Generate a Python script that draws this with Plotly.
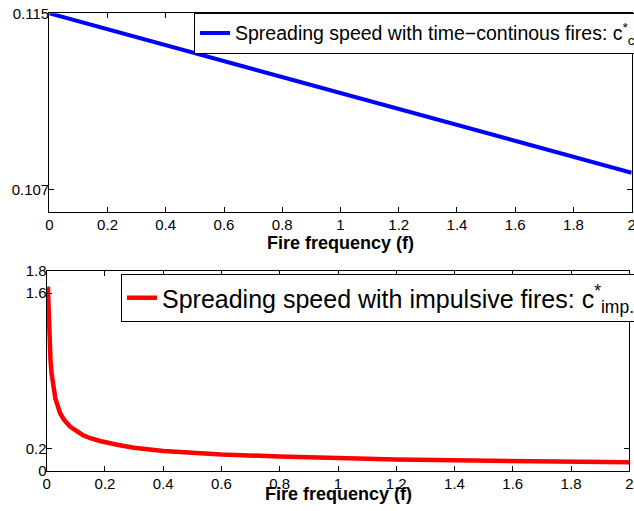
import plotly.graph_objects as go

# ---- data ----
f_cont = [0.0, 0.4, 0.8, 1.2, 1.6, 2.0]
c_cont = [0.1150, 0.11355, 0.11210, 0.11065, 0.10920, 0.10775]

f_imp = [0.004, 0.006, 0.008, 0.010, 0.013, 0.017, 0.023, 0.030, 0.046, 0.060,
         0.080, 0.100, 0.126, 0.150, 0.183, 0.246, 0.300, 0.400, 0.500, 0.600,
         0.800, 1.000, 1.200, 1.400, 1.600, 1.800, 2.000]
c_imp = [1.66, 1.47, 1.30, 1.14, 1.00, 0.87, 0.74, 0.65, 0.52, 0.46,
         0.40, 0.36, 0.32, 0.295, 0.27, 0.234, 0.21, 0.18, 0.162, 0.149,
         0.130, 0.114, 0.104, 0.096, 0.090, 0.084, 0.079]

x_ticks = [0, 0.2, 0.4, 0.6, 0.8, 1, 1.2, 1.4, 1.6, 1.8, 2]
x_ticktext = ["0", "0.2", "0.4", "0.6", "0.8", "1", "1.2", "1.4", "1.6", "1.8", "2"]
top_y_ticks = [0.107, 0.115]
top_y_text = ["0.107", "0.115"]
bot_y_ticks = [0, 0.2, 1.6, 1.8]
bot_y_text = ["0", "0.2", "1.6", "1.8"]
x_title = "<b>Fire frequency (f)</b>"

W, H = 634, 511
FONT = "Liberation Sans, Arial, Helvetica, sans-serif"

fig = go.Figure()
fig.add_trace(go.Scatter(
    x=f_cont, y=c_cont, mode="lines",
    line=dict(color="#0000ff", width=4),
    name="Spreading speed with time\u2212continous fires: c<sup>*</sup><sub>cont.</sub>",
    xaxis="x", yaxis="y", legend="legend"))
fig.add_trace(go.Scatter(
    x=f_imp, y=c_imp, mode="lines",
    line=dict(color="#ff0000", width=4.5),
    name="Spreading speed with impulsive fires: c<sup>*</sup><sub>imp.</sub>",
    xaxis="x2", yaxis="y2", legend="legend2"))

axis_common = dict(
    showline=True, linecolor="black", linewidth=1.2, mirror="ticks",
    ticks="inside", ticklen=5, tickcolor="black", tickwidth=1,
    showgrid=False, zeroline=False, automargin=False,
    ticklabeloverflow="allow",
    tickfont=dict(family=FONT, size=15, color="black"),
)

fig.update_layout(
    width=W, height=H,
    margin=dict(l=0, r=0, t=0, b=0, autoexpand=False),
    paper_bgcolor="white", plot_bgcolor="white",
    font=dict(family=FONT, color="black"),
    xaxis=dict(axis_common, domain=[49.3 / W, 631.7 / W], range=[0, 2],
               tickvals=x_ticks, ticktext=x_ticktext, anchor="y",
               ticklabelstandoff=-1,
               title=dict(text=x_title, font=dict(family=FONT, size=18, color="black"),
                          standoff=0)),
    yaxis=dict(axis_common, domain=[1 - 211.7 / H, 1 - 13.3 / H], range=[0.10598, 0.115],
               tickvals=top_y_ticks, ticktext=top_y_text, anchor="x",
               ticklabelstandoff=-4),
    xaxis2=dict(axis_common, domain=[46.7 / W, 629.3 / W], range=[0, 2],
                tickvals=x_ticks, ticktext=x_ticktext, anchor="y2",
                ticklabelstandoff=-1),
    yaxis2=dict(axis_common, domain=[1 - 471 / H, 1 - 271 / H], range=[0, 1.8],
                tickvals=bot_y_ticks, ticktext=bot_y_text, anchor="x2",
                ticklabelstandoff=-4),
    legend=dict(x=194 / W, y=1 - 12.7 / H, xanchor="left", yanchor="top",
                bgcolor="white", bordercolor="black", borderwidth=1,
                font=dict(family=FONT, size=19.5, color="black"), itemwidth=30),
    legend2=dict(x=121 / W, y=1 - 274 / H, xanchor="left", yanchor="top",
                 bgcolor="white", bordercolor="black", borderwidth=1,
                 font=dict(family=FONT, size=25, color="black"), itemwidth=30),
    showlegend=True,
    annotations=[dict(text=x_title, xref="paper", yref="paper",
                      x=(46.7 + 629.3) / 2 / W, y=1 - 494 / H,
                      xanchor="center", yanchor="middle", showarrow=False,
                      font=dict(family=FONT, size=18, color="black"))],
)

fig.write_html(
    "out.html",
    config={"displayModeBar": False},
    post_script="document.body.style.margin='0';document.body.style.overflow='hidden';",
)
